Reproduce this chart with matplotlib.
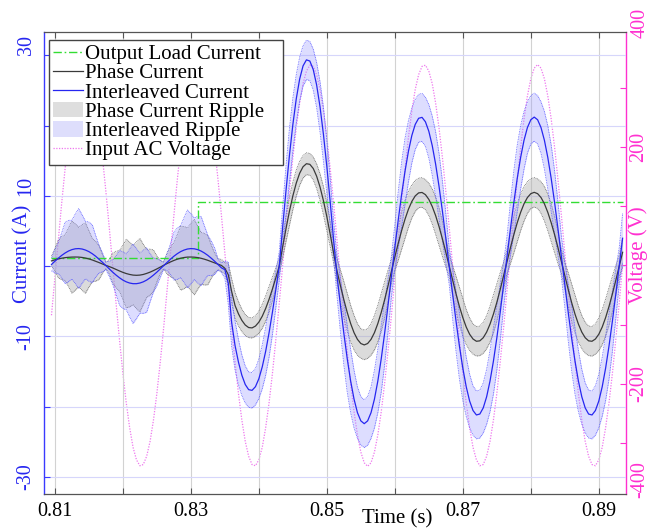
import numpy as np
import matplotlib
matplotlib.use('Agg')
import matplotlib.pyplot as plt
from matplotlib.patches import Patch
from matplotlib.lines import Line2D

# ---------------- data ----------------
time_s = [
    0.8095, 0.8100, 0.8105, 0.8110, 0.8115, 0.8120, 0.8125, 0.8130, 0.8135, 0.8140,
    0.8145, 0.8150, 0.8155, 0.8160, 0.8165, 0.8170, 0.8175, 0.8180, 0.8185, 0.8190,
    0.8195, 0.8200, 0.8205, 0.8210, 0.8215, 0.8220, 0.8225, 0.8230, 0.8235, 0.8240,
    0.8245, 0.8250, 0.8255, 0.8260, 0.8265, 0.8270, 0.8275, 0.8280, 0.8285, 0.8290,
    0.8295, 0.8300, 0.8305, 0.8310, 0.8315, 0.8320, 0.8325, 0.8330, 0.8335, 0.8340,
    0.8345, 0.8350, 0.8355, 0.8360, 0.8365, 0.8370, 0.8375, 0.8380, 0.8385, 0.8390,
    0.8395, 0.8400, 0.8405, 0.8410, 0.8415, 0.8420, 0.8425, 0.8430, 0.8435, 0.8440,
    0.8445, 0.8450, 0.8455, 0.8460, 0.8465, 0.8470, 0.8475, 0.8480, 0.8485, 0.8490,
    0.8495, 0.8500, 0.8505, 0.8510, 0.8515, 0.8520, 0.8525, 0.8530, 0.8535, 0.8540,
    0.8545, 0.8550, 0.8555, 0.8560, 0.8565, 0.8570, 0.8575, 0.8580, 0.8585, 0.8590,
    0.8595, 0.8600, 0.8605, 0.8610, 0.8615, 0.8620, 0.8625, 0.8630, 0.8635, 0.8640,
    0.8645, 0.8650, 0.8655, 0.8660, 0.8665, 0.8670, 0.8675, 0.8680, 0.8685, 0.8690,
    0.8695, 0.8700, 0.8705, 0.8710, 0.8715, 0.8720, 0.8725, 0.8730, 0.8735, 0.8740,
    0.8745, 0.8750, 0.8755, 0.8760, 0.8765, 0.8770, 0.8775, 0.8780, 0.8785, 0.8790,
    0.8795, 0.8800, 0.8805, 0.8810, 0.8815, 0.8820, 0.8825, 0.8830, 0.8835, 0.8840,
    0.8845, 0.8850, 0.8855, 0.8860, 0.8865, 0.8870, 0.8875, 0.8880, 0.8885, 0.8890,
    0.8895, 0.8900, 0.8905, 0.8910, 0.8915, 0.8920, 0.8925, 0.8930, 0.8935,
]

input_ac_voltage = [
    -84, -21, 42, 105, 163, 216, 261, 297, 322, 336,
    338, 328, 307, 274, 232, 182, 125, 64, 0, -64,
    -125, -182, -232, -274, -307, -328, -338, -336, -322, -297,
    -261, -216, -163, -105, -42, 21, 84, 144, 199, 247,
    286, 315, 333, 339, 333, 315, 286, 247, 199, 144,
    84, 21, -42, -105, -163, -216, -261, -297, -322, -336,
    -338, -328, -307, -274, -232, -182, -125, -64, 0, 64,
    125, 182, 232, 274, 307, 328, 338, 336, 322, 297,
    261, 216, 163, 105, 42, -21, -84, -144, -199, -247,
    -286, -315, -333, -339, -333, -315, -286, -247, -199, -144,
    -84, -21, 42, 105, 163, 216, 261, 297, 322, 336,
    338, 328, 307, 274, 232, 182, 125, 64, 0, -64,
    -125, -182, -232, -274, -307, -328, -338, -336, -322, -297,
    -261, -216, -163, -105, -42, 21, 84, 144, 199, 247,
    286, 315, 333, 339, 333, 315, 286, 247, 199, 144,
    84, 21, -42, -105, -163, -216, -261, -297, -322, -336,
    -338, -328, -307, -274, -232, -182, -125, -64, 0,
]

phase_current = [
    0.75, 0.90, 1.03, 1.13, 1.21, 1.26, 1.29, 1.30, 1.29, 1.24,
    1.15, 1.03, 0.88, 0.70, 0.51, 0.31, 0.11, -0.06, -0.25, -0.47,
    -0.68, -0.88, -1.05, -1.18, -1.27, -1.30, -1.27, -1.18, -1.03, -0.85,
    -0.63, -0.39, -0.13, 0.12, 0.37, 0.60, 0.81, 0.99, 1.13, 1.23,
    1.29, 1.30, 1.28, 1.22, 1.12, 0.99, 0.83, 0.65, 0.46, 0.28,
    0.10, -0.30, -1.20, -3.60, -5.60, -6.78, -7.71, -8.37, -8.73, -8.78,
    -8.52, -7.96, -7.12, -6.02, -4.72, -3.24, -1.65, 0.00, 2.74, 5.37,
    7.82, 9.99, 11.81, 13.21, 14.14, 14.57, 14.48, 13.89, 12.79, 11.25,
    9.31, 7.03, 4.51, 1.83, -0.70, -2.79, -4.77, -6.58, -8.16, -9.46,
    -10.41, -11.00, -11.20, -11.00, -10.41, -9.46, -8.16, -6.58, -4.77, -2.79,
    -0.70, 1.32, 3.24, 5.06, 6.69, 8.09, 9.20, 9.99, 10.42, 10.48,
    10.17, 9.50, 8.49, 7.19, 5.63, 3.87, 1.97, 0.00, -2.01, -3.94,
    -5.73, -7.32, -8.66, -9.68, -10.36, -10.68, -10.62, -10.18, -9.38, -8.24,
    -6.82, -5.16, -3.31, -1.34, 0.66, 2.61, 4.47, 6.17, 7.65, 8.87,
    9.76, 10.31, 10.50, 10.31, 9.76, 8.87, 7.65, 6.17, 4.47, 2.61,
    0.66, -1.34, -3.31, -5.16, -6.82, -8.24, -9.38, -10.18, -10.62, -10.68,
    -10.36, -9.68, -8.66, -7.32, -5.73, -3.94, -2.01, 0.00, 1.97,
]

interleaved_current = [
    0.24, 0.70, 1.13, 1.53, 1.87, 2.15, 2.35, 2.47, 2.50, 2.44,
    2.29, 2.07, 1.77, 1.41, 0.99, 0.55, 0.08, -0.39, -0.85, -1.27,
    -1.65, -1.98, -2.23, -2.40, -2.49, -2.49, -2.40, -2.23, -1.98, -1.65,
    -1.27, -0.85, -0.39, 0.08, 0.55, 0.99, 1.41, 1.77, 2.07, 2.29,
    2.44, 2.50, 2.47, 2.35, 2.15, 1.87, 1.53, 1.13, 0.70, 0.24,
    -0.24, -0.50, -2.40, -8.00, -11.30, -13.64, -15.51, -16.83, -17.56, -17.66,
    -17.14, -16.01, -14.32, -12.12, -9.48, -6.52, -3.32, 0.00, 5.51, 10.82,
    15.75, 20.12, 23.78, 26.60, 28.48, 29.34, 29.17, 27.96, 25.76, 22.65,
    18.74, 14.16, 9.08, 3.68, -1.41, -5.57, -9.54, -13.17, -16.33, -18.91,
    -20.83, -22.00, -22.40, -22.00, -20.83, -18.91, -16.33, -13.17, -9.54, -5.57,
    -1.41, 2.66, 6.55, 10.21, 13.51, 16.33, 18.58, 20.16, 21.03, 21.16,
    20.53, 19.18, 17.15, 14.51, 11.36, 7.80, 3.97, 0.00, -3.97, -7.80,
    -11.36, -14.51, -17.15, -19.18, -20.53, -21.16, -21.03, -20.16, -18.58, -16.33,
    -13.51, -10.21, -6.55, -2.66, 1.33, 5.27, 9.03, 12.46, 15.45, 17.90,
    19.71, 20.82, 21.20, 20.82, 19.71, 17.90, 15.45, 12.46, 9.03, 5.27,
    1.33, -2.66, -6.55, -10.21, -13.51, -16.33, -18.58, -20.16, -21.03, -21.16,
    -20.53, -19.18, -17.15, -14.51, -11.36, -7.80, -3.97, 0.00, 3.97,
]

# half-width of the ripple envelopes (A)
phase_ripple = [
    0.68, 1.58, 2.68, 3.06, 3.25, 4.15, 5.12, 4.72, 4.24, 4.67,
    5.00, 4.01, 3.08, 2.84, 2.39, 1.32, 0.43, 1.03, 2.10, 2.59,
    2.90, 3.84, 4.87, 4.60, 4.21, 4.75, 5.22, 4.30, 3.41, 3.28,
    2.94, 1.85, 0.92, 0.49, 1.49, 2.11, 2.52, 3.48, 4.54, 4.42,
    4.14, 4.78, 5.35, 4.51, 3.68, 3.67, 3.47, 2.36, 1.40, 0.77,
    0.86, 0.80, 1.63, 1.80, 1.84, 1.73, 1.60, 1.50, 1.43, 1.43,
    1.46, 1.56, 1.70, 1.80, 1.84, 1.70, 1.43, 1.07, 1.55, 1.85,
    2.00, 1.96, 1.85, 1.70, 1.59, 1.55, 1.55, 1.63, 1.74, 1.89,
    2.00, 1.96, 1.78, 1.41, 1.70, 2.25, 2.60, 2.70, 2.60, 2.45,
    2.25, 2.10, 2.10, 2.10, 2.25, 2.45, 2.60, 2.70, 2.60, 2.25,
    1.70, 1.90, 2.40, 2.65, 2.70, 2.55, 2.35, 2.20, 2.10, 2.10,
    2.15, 2.30, 2.50, 2.65, 2.70, 2.50, 2.10, 1.50, 2.10, 2.50,
    2.70, 2.65, 2.50, 2.30, 2.15, 2.10, 2.10, 2.20, 2.35, 2.55,
    2.70, 2.65, 2.40, 1.90, 1.70, 2.25, 2.60, 2.70, 2.60, 2.45,
    2.25, 2.10, 2.10, 2.10, 2.25, 2.45, 2.60, 2.70, 2.60, 2.25,
    1.70, 1.90, 2.40, 2.65, 2.70, 2.55, 2.35, 2.20, 2.10, 2.10,
    2.15, 2.30, 2.50, 2.65, 2.70, 2.50, 2.10, 1.50, 2.10,
]

interleaved_ripple = [
    0.90, 1.66, 2.18, 3.20, 4.36, 4.36, 4.19, 4.94, 5.68, 4.88,
    4.09, 4.20, 4.13, 2.96, 1.96, 1.36, 0.55, 1.07, 1.72, 2.72,
    3.88, 4.03, 3.98, 4.82, 5.65, 4.98, 4.27, 4.49, 4.57, 3.42,
    2.41, 1.93, 1.21, 0.49, 1.21, 2.20, 3.37, 3.65, 3.72, 4.62,
    5.54, 5.00, 4.39, 4.73, 4.93, 3.84, 2.84, 2.47, 1.87, 0.79,
    0.70, 1.20, 3.00, 3.40, 3.48, 3.22, 2.89, 2.63, 2.52, 2.52,
    2.59, 2.81, 3.11, 3.40, 3.48, 3.18, 2.59, 2.03, 2.87, 3.53,
    3.85, 3.77, 3.44, 3.12, 2.87, 2.79, 2.79, 2.91, 3.20, 3.57,
    3.85, 3.77, 3.32, 2.62, 2.90, 3.80, 4.50, 4.75, 4.50, 4.10,
    3.65, 3.45, 3.40, 3.45, 3.65, 4.10, 4.50, 4.75, 4.50, 3.80,
    2.90, 3.20, 4.05, 4.60, 4.70, 4.35, 3.90, 3.55, 3.40, 3.40,
    3.50, 3.80, 4.20, 4.60, 4.70, 4.30, 3.50, 2.60, 3.50, 4.30,
    4.70, 4.60, 4.20, 3.80, 3.50, 3.40, 3.40, 3.55, 3.90, 4.35,
    4.70, 4.60, 4.05, 3.20, 2.90, 3.80, 4.50, 4.75, 4.50, 4.10,
    3.65, 3.45, 3.40, 3.45, 3.65, 4.10, 4.50, 4.75, 4.50, 3.80,
    2.90, 3.20, 4.05, 4.60, 4.70, 4.35, 3.90, 3.55, 3.40, 3.40,
    3.50, 3.80, 4.20, 4.60, 4.70, 4.30, 3.50, 2.60, 3.50,
]

load_time = [0.8095, 0.8310, 0.8310, 0.8935]
load_current = [1.1, 1.1, 9.1, 9.1]

legend_labels = ["Output Load Current", "Phase Current", "Interleaved Current",
                 "Phase Current Ripple", "Interleaved Ripple", "Input AC Voltage"]
x_tick_values = [0.81, 0.82, 0.83, 0.84, 0.85, 0.86, 0.87, 0.88, 0.89]
x_tick_labels = ["0.81", "", "0.83", "", "0.85", "", "0.87", "", "0.89"]
left_tick_values = [-30, -20, -10, 0, 10, 20, 30]
left_tick_labels = ["-30", "", "-10", "", "10", "", "30"]
right_tick_values = [-300, -200, -100, 0, 100, 200, 300]
right_tick_labels = ["", "-200", "", "", "", "200", ""]
right_edge_labels = ["400", "-400"]

# ---------------- styling ----------------
plt.rcParams['font.family'] = ['Liberation Serif', 'DejaVu Serif']

BLUE = '#2626f0'
BLUE_AX = '#3a3aff'
MAG = '#ff30d0'
VOLT = '#ee77ee'
GRAY_LINE = '#3a3a3a'
GREEN = '#33dd33'
TICK_FS = 14.5

t = np.array(time_s)
ip = np.array(phase_current)
ii = np.array(interleaved_current)
rp = np.array(phase_ripple)
ri = np.array(interleaved_ripple)

fig = plt.figure(figsize=(6.5, 5.29), dpi=100)
ax = fig.add_axes([44 / 650, 35 / 529, 582 / 650, 462 / 529])
ax2 = ax.twinx()
ax.set_zorder(ax2.get_zorder() + 1)
ax.patch.set_visible(False)

# voltage on right axis
ax2.plot(t, input_ac_voltage, linestyle=(0, (1, 1.2)), color=VOLT, lw=0.9)
ax2.set_ylim(-385.7, 394)

# ripple envelopes
ax.fill_between(t, ip - rp, ip + rp, color='#b0b0b0', alpha=0.45, lw=0, zorder=2)
ax.plot(t, ip + rp, linestyle=(0, (1, 1)), color='#666666', lw=0.6, zorder=2.1)
ax.plot(t, ip - rp, linestyle=(0, (1, 1)), color='#666666', lw=0.6, zorder=2.1)
ax.fill_between(t, ii - ri, ii + ri, color='#9898ff', alpha=0.32, lw=0, zorder=2.2)
ax.plot(t, ii + ri, linestyle=(0, (1, 1)), color='#5a5aff', lw=0.6, zorder=2.3)
ax.plot(t, ii - ri, linestyle=(0, (1, 1)), color='#5a5aff', lw=0.6, zorder=2.3)

ax.plot(load_time, load_current, color=GREEN, lw=1.0, linestyle=(0, (6, 2, 1.2, 2)), zorder=3)
ax.plot(t, ip, color=GRAY_LINE, lw=0.9, zorder=4)
ax.plot(t, ii, color=BLUE, lw=0.9, zorder=4.1)

ax.set_xlim(0.8084, 0.8940)
ax.set_ylim(-32.4, 33.3)

# grid
ax.set_axisbelow(True)
ax.grid(axis='x', color='#d2d2d2', lw=0.8)
ax.grid(axis='y', color='#d6d6fb', lw=0.8)

# ticks
ax.set_xticks(x_tick_values)
ax.set_xticklabels(x_tick_labels)
ax.set_yticks(left_tick_values)
ax.set_yticklabels(left_tick_labels)
ax2.set_yticks(right_tick_values)
ax2.set_yticklabels(right_tick_labels)

ax.tick_params(axis='x', direction='in', length=4.5, width=0.8, color='#555555',
               top=True, labelsize=TICK_FS, pad=6)
ax.tick_params(axis='y', direction='in', length=4.5, width=0.8, color=BLUE_AX,
               labelcolor=BLUE, labelsize=TICK_FS, labelrotation=90, pad=6)
ax2.tick_params(axis='y', direction='in', length=4.5, width=0.8, color=MAG,
                labelcolor=MAG, labelsize=TICK_FS, labelrotation=90, pad=2)
for lab, val in zip(ax.get_yticklabels(), left_tick_values):
    lab.set_va('bottom' if val > 0 else 'center')
for lab in ax2.get_yticklabels():
    lab.set_va('center')

# spines
for s in ['top', 'bottom']:
    ax.spines[s].set_color('#555555')
    ax.spines[s].set_linewidth(0.9)
ax.spines['left'].set_color(BLUE_AX)
ax.spines['left'].set_linewidth(1.0)
ax.spines['right'].set_visible(False)
for s in ['left', 'top', 'bottom']:
    ax2.spines[s].set_visible(False)
ax2.spines['right'].set_color(MAG)
ax2.spines['right'].set_linewidth(1.0)

# edge labels of right axis
ax2.text(1.0075, 1.0195, right_edge_labels[0], transform=ax2.transAxes, rotation=90,
         ha='left', va='center', color=MAG, fontsize=TICK_FS)
ax2.text(1.0075, 0.0303, right_edge_labels[1], transform=ax2.transAxes, rotation=90,
         ha='left', va='center', color=MAG, fontsize=TICK_FS)

# axis labels
ax.set_xlabel('Time (s)', fontsize=15)
ax.xaxis.set_label_coords(0.6065, -0.034)
ax.set_ylabel('Current (A)', fontsize=15, color=BLUE)
ax.yaxis.set_label_coords(-0.036, 0.52)
ax.yaxis.label.set_va('center')
ax2.set_ylabel('Voltage (V)', fontsize=15, color=MAG, rotation=90)
ax2.yaxis.set_label_coords(1.0205, 0.517)
ax2.yaxis.label.set_va('center')
ax2.yaxis.label.set_ha('center')

# legend
handles = [
    Line2D([], [], color=GREEN, lw=1.0, linestyle=(0, (6, 2, 1.2, 2))),
    Line2D([], [], color=GRAY_LINE, lw=0.9),
    Line2D([], [], color=BLUE, lw=0.9),
    Patch(facecolor='#dedede', edgecolor='none'),
    Patch(facecolor='#dedefc', edgecolor='none'),
    Line2D([], [], color=VOLT, lw=0.9, linestyle=(0, (1, 1.2))),
]
leg = ax.legend(handles, legend_labels, loc='upper left',
                bbox_to_anchor=(0.0086, 0.70, 0.402, 0.2827), mode='expand',
                borderaxespad=0, fontsize=15, handlelength=1.45, handleheight=0.75,
                handletextpad=0.1, labelspacing=-0.03, borderpad=0.2,
                frameon=True, fancybox=False, framealpha=1, edgecolor='#444444')
leg.get_frame().set_linewidth(1.0)
leg.set_zorder(10)

fig.savefig('out.png', dpi=100)
